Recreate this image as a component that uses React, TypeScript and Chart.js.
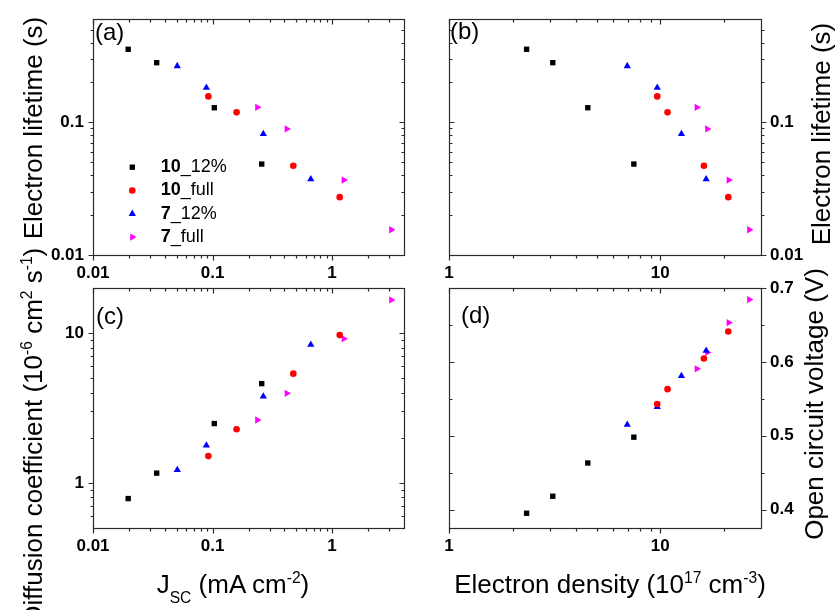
import React, { useEffect, useRef } from 'react';
import { Chart, registerables } from 'chart.js';
import { drawPoint } from 'chart.js/helpers';

Chart.register(...registerables);

const FONT = "'Liberation Sans', Arial, Helvetica, sans-serif";

// ---- series meta ----
const seriesBold = ['10', '10', '7', '7'];
const seriesRest = ['_12%', '_full', '_12%', '_full'];
const seriesColors = ['#000000', '#ff0000', '#0000ff', '#ff00ff'];
const seriesStyles = ['rect', 'circle', 'triangle', 'triangle'];
const seriesRotation = [0, 0, 0, 90];
const seriesRadius = [3.8, 3.3, 4.2, 4.2];

// ---- data: 10_12% ----
const jsc10_12 = [0.0197, 0.0341, 0.1035, 0.258];
const tau10_12 = [0.356, 0.282, 0.129, 0.0485];
const dens10_12 = [2.33, 3.1, 4.54, 7.5];
const diff10_12 = [0.786, 1.162, 2.49, 4.6];
const voc10_12 = [0.395, 0.418, 0.463, 0.498];

// ---- data: 10_full ----
const jsc10_full = [0.0923, 0.159, 0.474, 1.159];
const tau10_full = [0.157, 0.119, 0.0471, 0.0273];
const dens10_full = [9.68, 10.83, 16.1, 21.0];
const diff10_full = [1.51, 2.28, 5.36, 9.7];
const voc10_full = [0.543, 0.563, 0.6045, 0.641];

// ---- data: 7_12% ----
const jsc7_12 = [0.0507, 0.0888, 0.266, 0.664];
const tau7_12 = [0.266, 0.183, 0.0819, 0.0373];
const dens7_12 = [6.98, 9.68, 12.6, 16.5];
const diff7_12 = [1.22, 1.78, 3.78, 8.36];
const voc7_12 = [0.515, 0.539, 0.581, 0.615];

// ---- data: 7_full ----
const jsc7_full = [0.237, 0.418, 1.253, 3.13];
const tau7_full = [0.13, 0.0892, 0.0367, 0.0155];
const dens7_full = [14.9, 16.7, 21.1, 26.4];
const diff7_full = [2.63, 3.96, 9.17, 16.65];
const voc7_full = [0.5905, 0.6127, 0.653, 0.6844];

// ---- ticks ----
const jscTicks = [0.01, 0.1, 1];
const jscTickLabels = ['0.01', '0.1', '1'];
const densTicks = [1, 10];
const densTickLabels = ['1', '10'];
const tauTicks = [0.01, 0.1];
const tauTickLabels = ['0.01', '0.1'];
const diffTicks = [1, 10];
const diffTickLabels = ['1', '10'];
const vocTicks = [0.4, 0.5, 0.6, 0.7];
const vocTickLabels = ['0.4', '0.5', '0.6', '0.7'];

const jscAll = [jsc10_12, jsc10_full, jsc7_12, jsc7_full];
const densAll = [dens10_12, dens10_full, dens7_12, dens7_full];
const tauAll = [tau10_12, tau10_full, tau7_12, tau7_full];
const diffAll = [diff10_12, diff10_full, diff7_12, diff7_full];
const vocAll = [voc10_12, voc10_full, voc7_12, voc7_full];

type Pos = 'left' | 'right';

function tickSets(scale: any, minorStep?: number) {
  const major: number[] = scale.ticks.map((t: any) => t.value);
  const out = major.map((v) => ({ v, major: true }));
  const min = scale.min, max = scale.max;
  if (scale.type === 'logarithmic') {
    for (let e = Math.floor(Math.log10(min)); e <= Math.ceil(Math.log10(max)); e++) {
      for (let k = 2; k <= 9; k++) {
        const v = k * Math.pow(10, e);
        if (v > min * 1.0001 && v < max * 0.9999) out.push({ v, major: false });
      }
    }
  } else if (minorStep) {
    for (let v = Math.ceil(min / minorStep - 1e-9) * minorStep; v < max - 1e-9; v += minorStep) {
      if (!major.some((m) => Math.abs(m - v) < 1e-9)) out.push({ v, major: false });
    }
  }
  return out;
}

const frameTicks = {
  id: 'frameTicks',
  afterDraw(chart: any, _a: any, opts: any) {
    const { ctx, chartArea: a } = chart;
    const xs = chart.scales.x, ys = chart.scales.y;
    const L = Math.round(a.left), R = Math.round(a.right), T = Math.round(a.top), B = Math.round(a.bottom);
    ctx.save();
    ctx.strokeStyle = '#2a2a2a';
    ctx.lineWidth = 1.2;
    ctx.strokeRect(L + 0.5, T + 0.5, R - L, B - T);
    ctx.beginPath();
    for (const t of tickSets(xs)) {
      const p = Math.round(xs.getPixelForValue(t.v)) + 0.5;
      const len = t.major ? 5 : 3;
      ctx.moveTo(p, B + 0.5); ctx.lineTo(p, B + 0.5 + len);
      ctx.moveTo(p, T + 0.5); ctx.lineTo(p, T + 0.5 + len);
    }
    for (const t of tickSets(ys, opts.yMinorStep)) {
      const p = Math.round(ys.getPixelForValue(t.v)) + 0.5;
      const len = t.major ? 5 : 3;
      if (opts.yPos === 'left') {
        ctx.moveTo(L + 0.5 - len, p); ctx.lineTo(L + 0.5, p);
        ctx.moveTo(R + 0.5 - len, p); ctx.lineTo(R + 0.5, p);
      } else {
        ctx.moveTo(R + 0.5, p); ctx.lineTo(R + 0.5 + len, p);
        ctx.moveTo(L + 0.5, p); ctx.lineTo(L + 0.5 + len, p);
      }
    }
    ctx.stroke();
    ctx.restore();
  },
};

const seriesLegend = {
  id: 'seriesLegend',
  afterDraw(chart: any, _a: any, opts: any) {
    if (!opts.show) return;
    const { ctx, chartArea: a } = chart;
    const x0 = a.left + opts.dx, y0 = a.top + opts.dy;
    chart.data.datasets.forEach((ds: any, i: number) => {
      const y = y0 + i * opts.rowGap;
      ctx.save();
      ctx.fillStyle = ds.pointBackgroundColor;
      ctx.strokeStyle = ds.pointBackgroundColor;
      drawPoint(ctx, { pointStyle: ds.pointStyle, rotation: ds.pointRotation, radius: ds.pointRadius, borderWidth: 0 } as any, x0, y);
      ctx.fillStyle = '#000';
      ctx.textBaseline = 'middle';
      ctx.textAlign = 'left';
      const bx = x0 + opts.textGap;
      ctx.font = `bold 18px ${FONT}`;
      ctx.fillText(seriesBold[i], bx, y);
      const w = ctx.measureText(seriesBold[i]).width;
      ctx.font = `18px ${FONT}`;
      ctx.fillText(seriesRest[i], bx + w, y);
      ctx.restore();
    });
  },
};

type PanelCfg = {
  xAll: number[][];
  yAll: number[][];
  xMin: number; xMax: number; xTicks: number[]; xLabels: string[];
  yType: 'logarithmic' | 'linear';
  yMin: number; yMax: number; yTicks: number[]; yLabels: string[];
  yPos: Pos;
  yMinorStep?: number;
  padding: { left: number; right: number; top: number; bottom: number };
  legend?: boolean;
};

const tickFont = { size: 17, weight: 'bold' as const, family: FONT };

function buildConfig(c: PanelCfg): any {
  return {
    type: 'scatter',
    data: {
      datasets: c.xAll.map((xs, i) => ({
        label: seriesBold[i] + seriesRest[i],
        data: xs.map((x, j) => ({ x, y: c.yAll[i][j] })),
        pointStyle: seriesStyles[i],
        pointRotation: seriesRotation[i],
        pointRadius: seriesRadius[i],
        pointHoverRadius: seriesRadius[i],
        pointBackgroundColor: seriesColors[i],
        pointBorderColor: seriesColors[i],
        pointBorderWidth: 0,
        showLine: false,
        clip: false,
      })),
    },
    options: {
      responsive: false,
      animation: false,
      devicePixelRatio: 1,
      events: [],
      layout: { padding: c.padding },
      plugins: {
        legend: { display: false },
        tooltip: { enabled: false },
        frameTicks: { yPos: c.yPos, yMinorStep: c.yMinorStep },
        seriesLegend: { show: !!c.legend, dx: 39.3, dy: 148, rowGap: 23.3, textGap: 28.5 },
      },
      scales: {
        x: {
          type: 'logarithmic',
          position: 'bottom',
          min: c.xMin,
          max: c.xMax,
          grid: { display: false, drawTicks: false },
          border: { display: false },
          afterBuildTicks: (s: any) => { s.ticks = c.xTicks.map((v) => ({ value: v })); },
          afterFit: (s: any) => { s.height = 40; },
          ticks: {
            autoSkip: false, maxRotation: 0, minRotation: 0, padding: 8, color: '#000', font: tickFont,
            callback: (_v: any, i: number) => c.xLabels[i],
          },
        },
        y: {
          type: c.yType,
          position: c.yPos,
          min: c.yMin,
          max: c.yMax,
          grid: { display: false, drawTicks: false },
          border: { display: false },
          afterBuildTicks: (s: any) => { s.ticks = c.yTicks.map((v) => ({ value: v })); },
          afterFit: (s: any) => { s.width = 60; },
          ticks: {
            autoSkip: false, padding: 9, color: '#000', font: tickFont,
            callback: (_v: any, i: number) => c.yLabels[i],
          },
        },
      },
    },
    plugins: [frameTicks, seriesLegend],
  };
}

const panels: PanelCfg[] = [
  {
    xAll: jscAll, yAll: tauAll, xMin: 0.01, xMax: 4, xTicks: jscTicks, xLabels: jscTickLabels,
    yType: 'logarithmic', yMin: 0.01, yMax: 0.6, yTicks: tauTicks, yLabels: tauTickLabels, yPos: 'left',
    padding: { left: 33, right: 431, top: 16, bottom: 315 }, legend: true,
  },
  {
    xAll: densAll, yAll: tauAll, xMin: 1, xMax: 30, xTicks: densTicks, xLabels: densTickLabels,
    yType: 'logarithmic', yMin: 0.01, yMax: 0.6, yTicks: tauTicks, yLabels: tauTickLabels, yPos: 'right',
    padding: { left: 449, right: 14, top: 16, bottom: 315 },
  },
  {
    xAll: jscAll, yAll: diffAll, xMin: 0.01, xMax: 4, xTicks: jscTicks, xLabels: jscTickLabels,
    yType: 'logarithmic', yMin: 0.5, yMax: 20, yTicks: diffTicks, yLabels: diffTickLabels, yPos: 'left',
    padding: { left: 33, right: 431, top: 288, bottom: 42 },
  },
  {
    xAll: densAll, yAll: vocAll, xMin: 1, xMax: 30, xTicks: densTicks, xLabels: densTickLabels,
    yType: 'linear', yMin: 0.375, yMax: 0.7, yTicks: vocTicks, yLabels: vocTickLabels, yPos: 'right', yMinorStep: 0.05,
    padding: { left: 449, right: 14, top: 288, bottom: 42 },
  },
];

function Panel({ cfg }: { cfg: PanelCfg }) {
  const ref = useRef<HTMLCanvasElement>(null);
  useEffect(() => {
    const chart = new Chart(ref.current as HTMLCanvasElement, buildConfig(cfg));
    return () => chart.destroy();
  }, [cfg]);
  return (
    <canvas
      ref={ref}
      width={835}
      height={610}
      style={{ position: 'absolute', left: 0, top: 0, width: 835, height: 610 }}
    />
  );
}

const supStyle: React.CSSProperties = { fontSize: '0.6em', position: 'relative', top: '-0.62em', lineHeight: 0 };
const subStyle: React.CSSProperties = { fontSize: '0.6em', position: 'relative', top: '0.64em', lineHeight: 0 };
const Sup = ({ t }: { t: string }) => <span style={supStyle}>{t}</span>;
const Sub = ({ t }: { t: string }) => <span style={subStyle}>{t}</span>;

function Title({ cx, cy, rotate, size = 26, children }: { cx: number; cy: number; rotate?: boolean; size?: number; children: React.ReactNode }) {
  return (
    <div
      style={{
        position: 'absolute', left: cx, top: cy,
        transform: `translate(-50%, -50%)${rotate ? ' rotate(-90deg)' : ''}`,
        fontSize: size, lineHeight: '30px', whiteSpace: 'nowrap', fontFamily: FONT, color: '#000',
      }}
    >
      {children}
    </div>
  );
}

function PanelTag({ left, top, text }: { left: number; top: number; text: string }) {
  return (
    <div style={{ position: 'absolute', left, top, fontSize: 24, lineHeight: '30px', fontFamily: FONT, color: '#000', whiteSpace: 'nowrap' }}>
      {text}
    </div>
  );
}

export default function App() {
  return (
    <div style={{ position: 'absolute', left: 0, top: 0, width: 835, height: 610, background: '#fff', overflow: 'hidden', fontFamily: FONT }}>
      {panels.map((p, i) => (
        <Panel key={i} cfg={p} />
      ))}
      <PanelTag left={95} top={17} text="(a)" />
      <PanelTag left={450} top={16} text="(b)" />
      <PanelTag left={96} top={301} text="(c)" />
      <PanelTag left={461} top={300} text="(d)" />
      <Title cx={33} cy={128} rotate>Electron lifetime (s)</Title>
      <Title cx={33} cy={436} rotate>
        Diffusion coefficient (10<Sup t="-6" /> cm<Sup t="2" /> s<Sup t="-1" />)
      </Title>
      <Title cx={821} cy={134} rotate>Electron lifetime (s)</Title>
      <Title cx={814} cy={404} rotate>Open circuit voltage (V)</Title>
      <Title cx={233} cy={584}>
        J<Sub t="SC" /> (mA cm<Sup t="-2" />)
      </Title>
      <Title cx={610} cy={584}>
        Electron density (10<Sup t="17" /> cm<Sup t="-3" />)
      </Title>
    </div>
  );
}
